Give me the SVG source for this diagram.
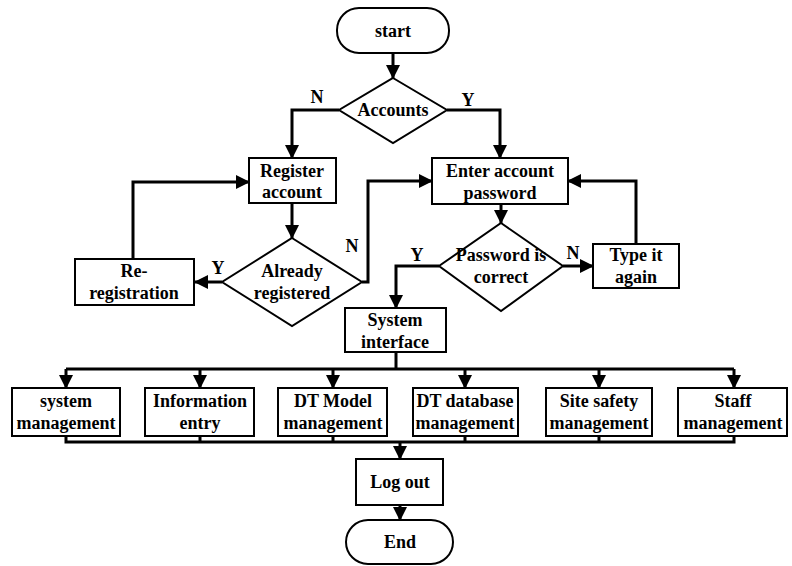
<svg xmlns="http://www.w3.org/2000/svg" width="792" height="566" viewBox="0 0 792 566">
  <defs>
    <marker id="arrow" markerUnits="userSpaceOnUse" markerWidth="14" markerHeight="14" viewBox="0 0 14 14" refX="13" refY="7" orient="auto">
      <path d="M0,0 L14,7 L0,14 Z" fill="#000"/>
    </marker>
    <style>
      .shape { fill: #fff; stroke: #000; stroke-width: 2; }
      .line { fill: none; stroke: #000; stroke-width: 3; }
      .arr { marker-end: url(#arrow); }
      text { font-family: "Liberation Serif", "Times New Roman", serif; font-weight: bold; font-size: 18px; fill: #000; text-anchor: middle; dominant-baseline: central; }
    </style>
  </defs>
  <rect width="792" height="566" fill="#fff"/>

  <!-- connectors -->
  <g id="connectors">
    <path class="line arr" d="M393,53 V78"/>
    <path class="line arr" d="M339,110 H292 V158"/>
    <path class="line arr" d="M447,110 H500 V158"/>
    <path class="line arr" d="M292,203 V238"/>
    <path class="line arr" d="M222,282 H195"/>
    <path class="line arr" d="M133,259 V182 H249"/>
    <path class="line arr" d="M362,282 H368 V181 H432"/>
    <path class="line arr" d="M501,204 V223"/>
    <path class="line arr" d="M563,266 H593"/>
    <path class="line arr" d="M636,244 V181 H568"/>
    <path class="line arr" d="M439,266 H396 V308"/>
    <path class="line" d="M396,352 V369"/>
    <path class="line" d="M66,369 H734"/>
    <path class="line arr" d="M66,369 V388"/>
    <path class="line arr" d="M200,369 V388"/>
    <path class="line arr" d="M333,369 V388"/>
    <path class="line arr" d="M465,369 V388"/>
    <path class="line arr" d="M599,369 V388"/>
    <path class="line arr" d="M734,369 V388"/>
    <path class="line" d="M66,436 V442 H734 V436"/>
    <path class="line" d="M200,436 V442 M333,436 V442 M465,436 V442 M599,436 V442"/>
    <path class="line arr" d="M400,442 V459"/>
    <path class="line arr" d="M400,505 V520"/>
  </g>

  <!-- branch labels -->
  <g id="labels">
    <text x="317" y="97">N</text>
    <text x="468" y="100">Y</text>
    <text x="218" y="268">Y</text>
    <text x="352" y="246">N</text>
    <text x="417" y="255">Y</text>
    <text x="573" y="253">N</text>
  </g>

  <g id="start">
    <rect class="shape" x="337" y="8" width="112" height="45" rx="22" ry="22"/>
    <text x="393" y="31">start</text>
  </g>

  <g id="accounts">
    <polygon class="shape" points="393,78 447,110 393,143 339,110"/>
    <text x="393" y="110">Accounts</text>
  </g>

  <g id="register-account">
    <rect class="shape" x="249" y="158" width="87" height="45"/>
    <text x="292" y="171">Register</text>
    <text x="292" y="192">account</text>
  </g>

  <g id="already-registered">
    <polygon class="shape" points="292,238 362,282 292,326 222,282"/>
    <text x="292" y="271">Already</text>
    <text x="292" y="293">registered</text>
  </g>

  <g id="re-registration">
    <rect class="shape" x="75" y="259" width="119" height="46"/>
    <text x="134" y="271">Re-</text>
    <text x="134" y="293">registration</text>
  </g>

  <g id="enter-password">
    <rect class="shape" x="432" y="158" width="136" height="46"/>
    <text x="500" y="171">Enter account</text>
    <text x="500" y="193">password</text>
  </g>

  <g id="password-correct">
    <polygon class="shape" points="501,223 563,266 501,311 439,266"/>
    <text x="501" y="255">Password is</text>
    <text x="501" y="277">correct</text>
  </g>

  <g id="type-again">
    <rect class="shape" x="593" y="244" width="86" height="44"/>
    <text x="636" y="255">Type it</text>
    <text x="636" y="277">again</text>
  </g>

  <g id="system-interface">
    <rect class="shape" x="345" y="308" width="101" height="44"/>
    <text x="395" y="320">System</text>
    <text x="395" y="342">interface</text>
  </g>

  <g id="system-management">
    <rect class="shape" x="12" y="388" width="108" height="48"/>
    <text x="66" y="401">system</text>
    <text x="66" y="423">management</text>
  </g>

  <g id="information-entry">
    <rect class="shape" x="145" y="388" width="109" height="48"/>
    <text x="200" y="401">Information</text>
    <text x="200" y="423">entry</text>
  </g>

  <g id="dt-model">
    <rect class="shape" x="278" y="388" width="109" height="48"/>
    <text x="333" y="401">DT Model</text>
    <text x="333" y="423">management</text>
  </g>

  <g id="dt-database">
    <rect class="shape" x="413" y="388" width="105" height="48"/>
    <text x="465" y="401">DT database</text>
    <text x="465" y="423">management</text>
  </g>

  <g id="site-safety">
    <rect class="shape" x="546" y="388" width="106" height="48"/>
    <text x="599" y="401">Site safety</text>
    <text x="599" y="423">management</text>
  </g>

  <g id="staff-management">
    <rect class="shape" x="678" y="388" width="109" height="48"/>
    <text x="733" y="401">Staff</text>
    <text x="733" y="423">management</text>
  </g>

  <g id="log-out">
    <rect class="shape" x="356" y="459" width="87" height="46"/>
    <text x="400" y="482">Log out</text>
  </g>

  <g id="end">
    <rect class="shape" x="346" y="520" width="107" height="44" rx="22" ry="22"/>
    <text x="400" y="542">End</text>
  </g>
</svg>
